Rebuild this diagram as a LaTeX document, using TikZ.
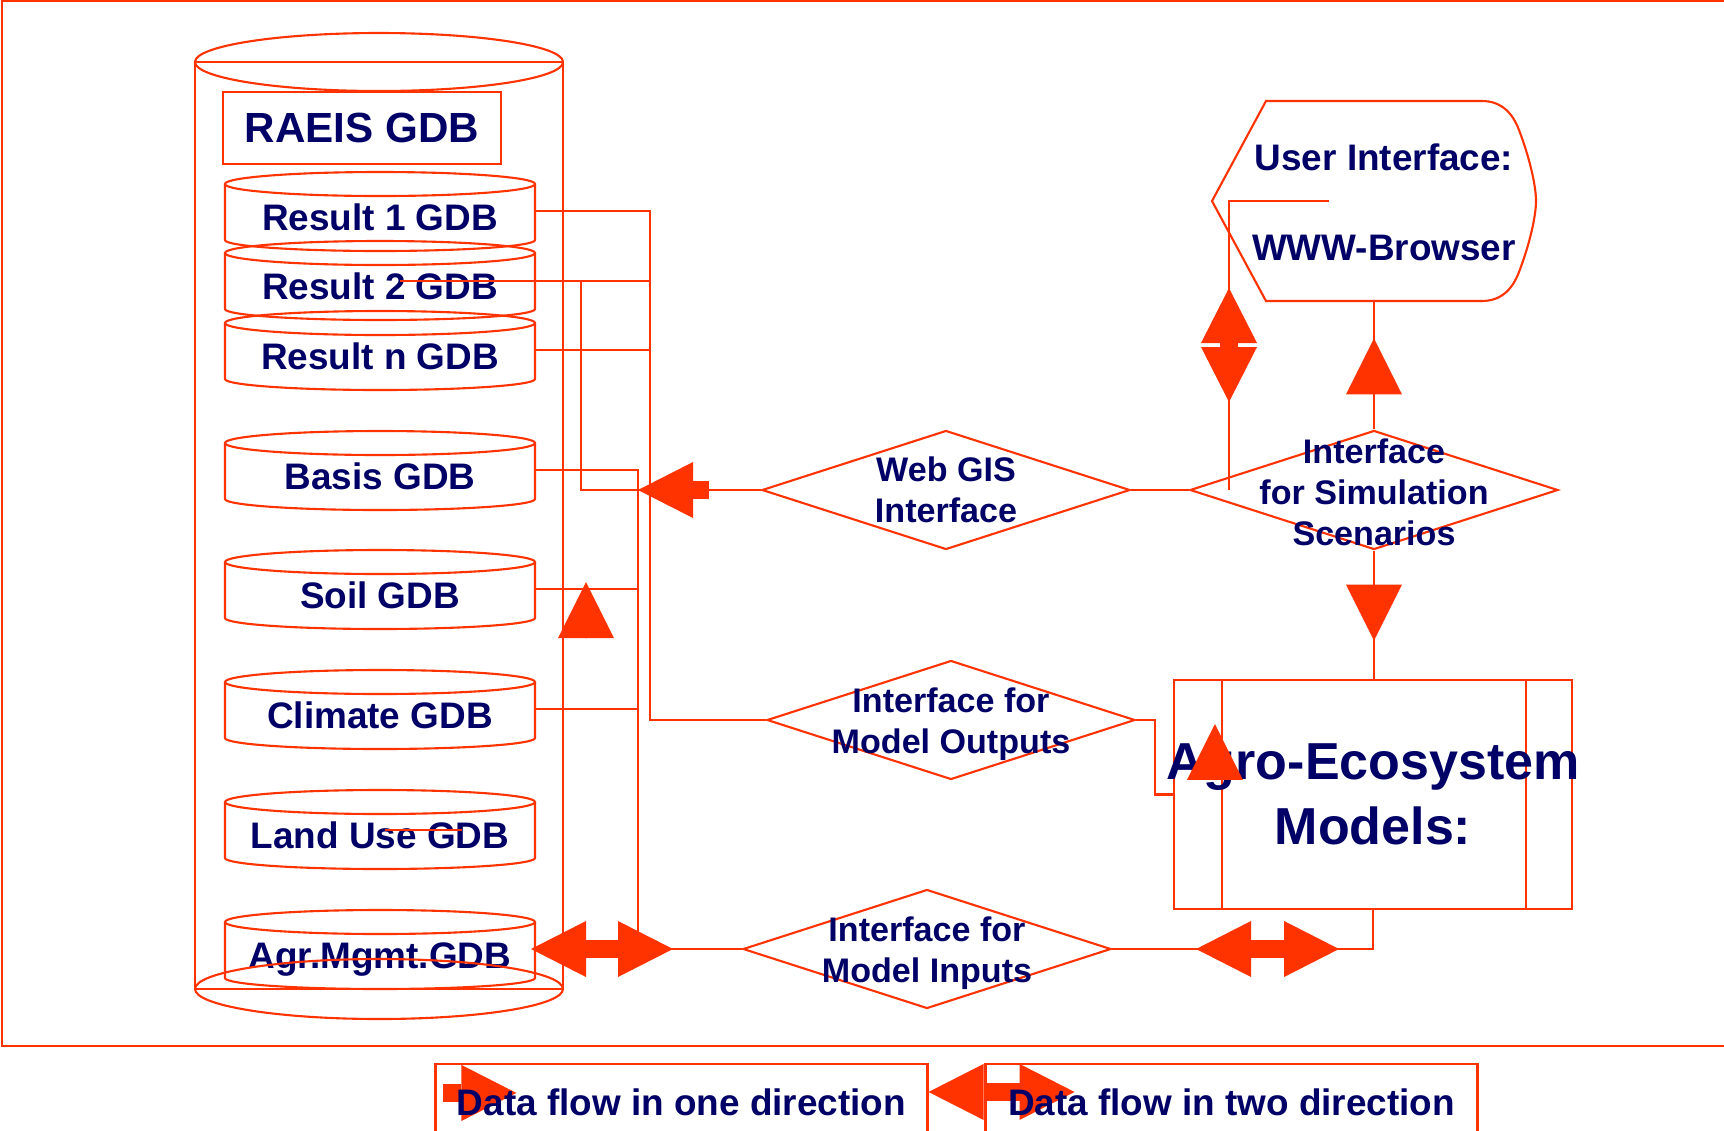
\documentclass[tikz,border=0pt]{standalone}
\usepackage{fontspec}
\setmainfont{Liberation Sans}
\usetikzlibrary{arrows.meta, shapes.geometric}
\definecolor{flowred}{HTML}{FF3300}
\definecolor{labelblue}{HTML}{000066}

\begin{document}
\begin{tikzpicture}[
  x=0.1mm, y=-0.1mm,
  outline/.style={draw=flowred, line width=0.6pt},
  wire/.style={draw=flowred, line width=0.6pt},
  gdbtext/.style={font=\fontsize{10.5}{12}\selectfont\bfseries, text=labelblue, inner sep=0pt},
  titlebox/.style={outline, minimum width=27.8mm, minimum height=7.2mm, inner sep=0pt,
                   font=\fontsize{12}{14}\selectfont\bfseries, text=labelblue},
  iface/.style={diamond, outline, minimum width=36.8mm, minimum height=11.9mm, inner sep=0pt},
  ifacetext/.style={font=\fontsize{9.7}{11.7}\selectfont\bfseries, text=labelblue, align=center, inner sep=0pt},
  uitext/.style={font=\fontsize{10.5}{25.6}\selectfont\bfseries, text=labelblue, align=center, inner sep=0pt},
  modelbox/.style={outline, minimum width=39.8mm, minimum height=22.9mm, inner sep=0pt},
  modeltext/.style={font=\fontsize{14.8}{18.5}\selectfont\bfseries, text=labelblue, align=center, inner sep=0pt},
  legendbox/.style={outline, minimum width=49.2mm, minimum height=7.6mm, inner sep=0pt},
  legendtext/.style={font=\fontsize{10.5}{12}\selectfont\bfseries, text=labelblue, inner sep=0pt},
  oneway/.style={draw=flowred, line width=1.8mm,
                 -{Triangle[length=5.5mm, width=5.6mm, line width=0pt]}},
  twoway/.style={draw=flowred, line width=1.8mm,
                 {Triangle[length=5.5mm, width=5.6mm, line width=0pt]}-{Triangle[length=5.5mm, width=5.6mm, line width=0pt]}},
  tri/.style={draw=flowred, line width=0.6pt,
              -{Triangle[length=5.6mm, width=5.6mm, line width=0pt]}},
  gdb/.pic={
    \draw[outline] (0,0) ellipse [x radius=155, y radius=12];
    \draw[outline] (-155,0) -- (-155,56) arc [start angle=180, end angle=0, x radius=155, y radius=11] -- (155,0);
    \node[gdbtext, anchor=base] (-text) at (0,46) {#1};
    \coordinate (-out) at (155,27);
    \coordinate (-in) at (0,28);
  },
]
\useasboundingbox (0,0) rectangle (1724,1130);

\draw[outline] (2,1) rectangle (1760,1046);

% geo databases
\pic (res1) at (380,184) {gdb={Result 1 GDB}};
\pic (res2) at (380,253) {gdb={Result 2 GDB}};
\pic (resn) at (380,323) {gdb={Result n GDB}};
\pic (basis) at (380,443) {gdb={Basis GDB}};
\pic (soil) at (380,562) {gdb={Soil GDB}};
\pic (climate) at (380,682) {gdb={Climate GDB}};
\pic (landuse) at (380,802) {gdb={Land Use GDB}};
\pic (agr) at (380,922) {gdb={Agr.Mgmt.GDB}};

\draw[outline] (379,62) ellipse [x radius=184, y radius=29];
\draw[outline] (195,62) -- (563,62);
\draw[outline] (195,62) -- (195,989);
\draw[outline] (563,62) -- (563,989);
\draw[outline] (379,989) ellipse [x radius=184, y radius=30];
\draw[outline] (195,989) -- (563,989);

\node[titlebox] (raeis) at (362,128) {RAEIS GDB};

% interfaces
\node[iface] (webgis) at (946,490) {};
\node[ifacetext] at (webgis) {Web GIS\\Interface};
\node[iface] (sim) at (1374,490) {};
\node[ifacetext] at ([shift={(0,2)}]sim) {Interface\\for Simulation\\Scenarios};
\node[iface] (outputs) at (951,720) {};
\node[ifacetext] at ([shift={(0,4)}]outputs) {Interface for\\Model Outputs};
\node[iface] (inputs) at (927,949) {};
\node[ifacetext] at ([shift={(0,4)}]inputs) {Interface for\\Model Inputs};

\node[modelbox] (agro) at (1373,794.5) {};
\draw[outline] ([xshift=4.9mm]agro.north west) -- ([xshift=4.9mm]agro.south west);
\draw[outline] ([xshift=-4.7mm]agro.north east) -- ([xshift=-4.7mm]agro.south east);
\node[modeltext] at (agro) {Agro-Ecosystem\\Models:};

\node[minimum width=32.4mm, minimum height=20mm, inner sep=0pt] (ui) at (1374,201) {};
\draw[outline] (1212,201) -- (1266,101) -- (1482,101)
  .. controls (1502,101) and (1513,114) .. (1519,130)
  .. controls (1529,156) and (1536,185) .. (1536,201)
  .. controls (1536,217) and (1529,246) .. (1519,272)
  .. controls (1513,288) and (1502,301) .. (1482,301) -- (1266,301) -- cycle;
\node[uitext] at (1384,202) {User Interface:\\WWW-Browser};

\coordinate (inbus) at (581,0);
\coordinate (mbus) at (638,0);
\coordinate (outbus) at (650,0);
\coordinate (uidrop) at (1229,490);
\coordinate (uilink) at (1329,201);

\draw[wire] (res1-out) -| (outbus |- outputs.west) -- (outputs.west);
\draw[wire] ([xshift=2mm]res2-in) -- (res2-in -| outbus);
\draw[wire] (resn-out) -- (resn-out -| outbus);
\draw[wire] (inbus |- res2-in) |- (webgis.west);
\draw[wire] (basis-out) -| (mbus |- inputs.west) -- (inputs.west);
\draw[wire] (soil-out) -- (soil-out -| mbus);
\draw[wire] (climate-out) -- (climate-out -| mbus);
\draw[wire] ([xshift=0.5mm]landuse-in) -- ++(77,0);
\draw[wire] (webgis.east) -- (sim.west);
\draw[wire] (uidrop) |- (uilink);
\draw[wire] (ui.south) -- (sim.north);
\draw[wire] (sim.south) -- (sim.south |- agro.north);
\draw[wire] (outputs.east) -- ++(19,0) |- (agro.west);
\draw[wire] (inputs.east) -| (agro.south);

\draw[oneway] (webgis.west) ++(-52,0) -- (mbus |- webgis.west);
\draw[twoway] (agr-out) ++(-4,0) -- ++(142,0);
\draw[twoway] (inputs.east) ++(84,0) -- ++(143,0);
\draw[twoway] (uidrop) ++(0,-202) -- ++(0,114);
\draw[tri] (soil-out) ++(51,49) -- ++(0,-56);
\draw[tri] (sim.north) ++(0,-35) -- ++(0,-56);
\draw[tri] (sim.south) ++(0,34) -- ++(0,56);
\draw[tri] (agro.north west) ++(42,101) -- ++(0,-56);

% legend
\node[legendbox] (leg1) at (681.5,1102) {};
\node[legendbox] (leg2) at (1231.5,1102) {};
\draw[oneway] (leg1.north west) ++(9,30) -- ++(73,0);
\draw[twoway] (leg1.north east) ++(0,29) -- ++(146,0);
\node[legendtext] at (leg1) {Data flow in one direction};
\node[legendtext] at (leg2) {Data flow in two direction};

\end{tikzpicture}
\end{document}
